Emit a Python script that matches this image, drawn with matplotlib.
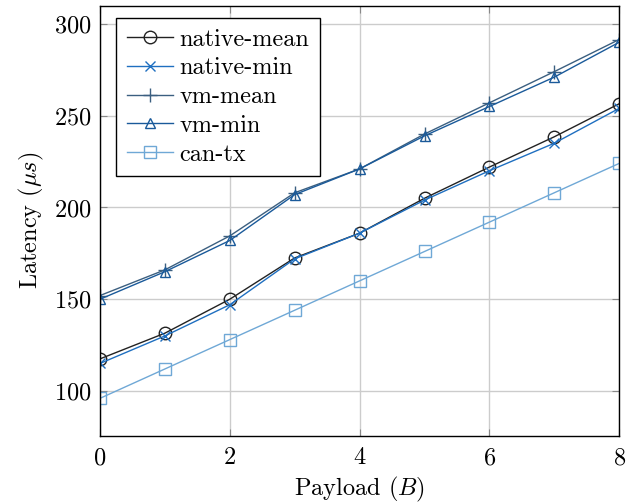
import matplotlib
matplotlib.use("Agg")
import matplotlib.pyplot as plt

payload = [0, 1, 2, 3, 4, 5, 6, 7, 8]

native_mean = [117.5, 131.5, 150, 172.5, 186, 205, 222, 238.5, 256.5]
native_min = [115, 130, 147, 172, 186, 204, 220, 235, 254]
vm_mean = [152, 166, 184.5, 208, 221, 240, 257, 274, 291.5]
vm_min = [150, 165, 182, 207, 221, 239, 255, 271, 290]
can_tx = [96, 112, 128, 144, 160, 176, 192, 208, 224]

series = [
    ("native-mean", native_mean, "#222222", "o", 9),
    ("native-min", native_min, "#1f6fc0", "x", 7),
    ("vm-mean", vm_mean, "#3b5f80", "+", 10),
    ("vm-min", vm_min, "#1a5a9a", "^", 7.5),
    ("can-tx", can_tx, "#6fa8d6", "s", 8),
]


def main():
    plt.rcParams["font.family"] = "serif"
    plt.rcParams["font.serif"] = ["cmr10", "DejaVu Serif"]
    plt.rcParams["mathtext.fontset"] = "cm"
    plt.rcParams["axes.formatter.use_mathtext"] = True
    plt.rcParams["font.size"] = 17.5

    fig = plt.figure(figsize=(6.41, 5.04), dpi=100)
    ax = fig.add_axes([0.156, 0.135, 0.81, 0.854])

    for label, vals, color, marker, ms in series:
        ax.plot(payload, vals, color=color, marker=marker, markersize=ms,
                markerfacecolor="none", markeredgecolor=color,
                markeredgewidth=1.0, linewidth=1.0, label=label)

    ax.set_xlim(0, 8)
    ax.set_ylim(75.5, 310)
    ax.set_xticks([0, 2, 4, 6, 8])
    ax.set_yticks([100, 150, 200, 250, 300])
    ax.grid(True, color="#cccccc", linewidth=1.0)
    ax.set_axisbelow(True)
    ax.tick_params(direction="in", top=True, right=True, length=5,
                   color="#888888", labelsize=17.5)
    ax.tick_params(axis="x", pad=8)
    ax.tick_params(axis="y", pad=6)
    for s in ax.spines.values():
        s.set_linewidth(1.0)

    ax.set_xlabel("Payload ($B$)", labelpad=4)
    ax.set_ylabel(r"Latency ($\mu s$)", labelpad=6)

    leg = ax.legend(loc="upper left", bbox_to_anchor=(0.022, 0.983),
                    fancybox=False, framealpha=1, edgecolor="black",
                    handlelength=1.9, labelspacing=0.27, borderpad=0.45,
                    handletextpad=0.25, borderaxespad=0.2, fontsize=17.5)
    leg.get_frame().set_linewidth(1.0)

    fig.savefig("out.png", dpi=100)


if __name__ == "__main__":
    main()
